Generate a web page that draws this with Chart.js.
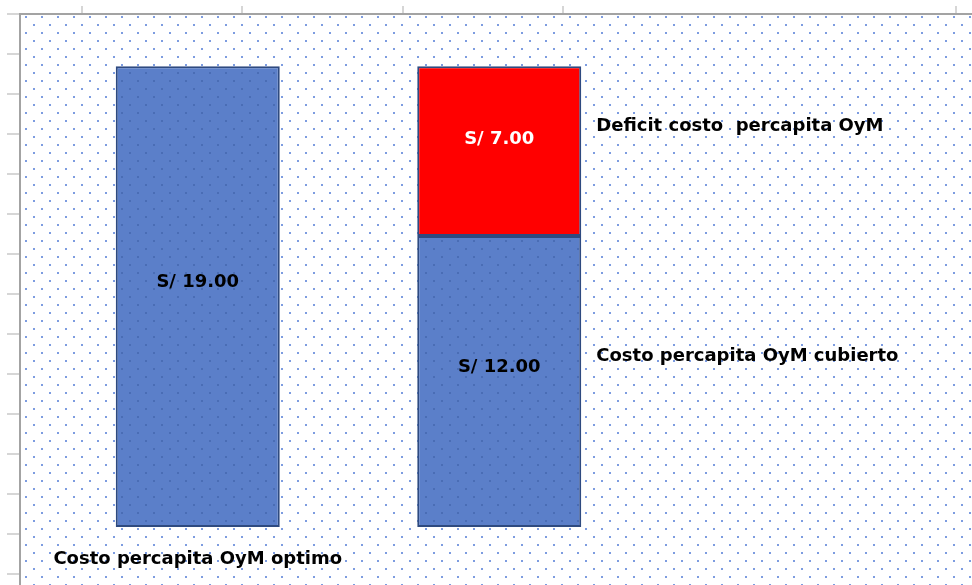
<!DOCTYPE html>
<html>
<head>
<meta charset="utf-8">
<script src="https://cdn.jsdelivr.net/npm/chart.js@4.4.1/dist/chart.umd.min.js"></script>
<style>
  html, body { margin: 0; padding: 0; background: #fff; }
  #wrap { width: 972px; height: 585px; position: relative; }
</style>
</head>
<body>
<div id="wrap"><canvas id="c"></canvas></div>
<script>
// chart data
const categories = ['Costo percapita OyM optimo', ''];
const coveredCost = [19, 12];
const deficitCost = [null, 7];
const seriesNames = ['Costo percapita OyM cubierto', 'Deficit costo  percapita OyM'];
const yMax = 20;

// spreadsheet grid marks behind the chart object
const colMarks = [82, 242, 403, 563, 956];
const rowMarks = [54, 94, 134, 174, 214, 254, 294, 334, 374, 414, 454, 494, 534, 574];

const FONT = 'bold 18px "DejaVu Sans"';
const money = v => 'S/ ' + v.toFixed(2);

// dotted fill (Excel 5% pattern)
function dotTile(bg, dot) {
  const t = document.createElement('canvas');
  t.width = 16; t.height = 16;
  const g = t.getContext('2d');
  if (bg) { g.fillStyle = bg; g.fillRect(0, 0, 16, 16); }
  g.fillStyle = dot;
  g.fillRect(9, 0, 2, 2);
  g.fillRect(1, 8, 2, 2);
  return g.createPattern(t, 'repeat');
}

const ctx0 = document.getElementById('c').getContext('2d');
const bgPattern = dotTile(null, '#7d9ce0');
const bluePattern = dotTile('#5b7fc9', '#4a6db5');

const backdrop = {
  id: 'backdrop',
  beforeDraw(chart) {
    const { ctx, width, height } = chart;
    ctx.save();
    ctx.fillStyle = '#fff';
    ctx.fillRect(0, 0, width, height);
    // grid marks
    ctx.strokeStyle = '#d6d6d6';
    ctx.lineWidth = 2;
    colMarks.forEach(x => { ctx.beginPath(); ctx.moveTo(x, 6); ctx.lineTo(x, 14); ctx.stroke(); });
    rowMarks.forEach(y => { ctx.beginPath(); ctx.moveTo(7, y); ctx.lineTo(20, y); ctx.stroke(); });
    ctx.beginPath(); ctx.moveTo(7, 14); ctx.lineTo(20, 14); ctx.stroke();
    // chart object fill
    ctx.fillStyle = bgPattern;
    ctx.fillRect(21, 15, width - 21, height - 15);
    // frame
    ctx.strokeStyle = '#a3a3a3';
    ctx.beginPath();
    ctx.moveTo(20, height); ctx.lineTo(20, 14); ctx.lineTo(width, 14);
    ctx.stroke();
    ctx.restore();
  }
};

const labelsPlugin = {
  id: 'labels',
  afterDatasetsDraw(chart) {
    const { ctx } = chart;
    const y = chart.scales.y;
    const cov = chart.getDatasetMeta(0).data;
    const def = chart.getDatasetMeta(1).data;
    ctx.save();
    ctx.font = FONT;
    ctx.textBaseline = 'alphabetic';

    // value labels inside segments
    ctx.textAlign = 'center';
    coveredCost.forEach((v, i) => {
      const mid = (y.getPixelForValue(0) + y.getPixelForValue(v)) / 2;
      ctx.fillStyle = '#000';
      ctx.fillText(money(v), cov[i].x, mid - 10);
    });
    deficitCost.forEach((v, i) => {
      if (v == null) return;
      const base = coveredCost[i];
      const mid = (y.getPixelForValue(base) + y.getPixelForValue(base + v)) / 2;
      ctx.fillStyle = '#fff';
      ctx.fillText(money(v), def[i].x, mid - 7);
    });

    // series names beside the stacked bar
    ctx.textAlign = 'left';
    ctx.fillStyle = '#000';
    const i = 1;
    const right = def[i].x + def[i].width / 2;
    const midDef = (y.getPixelForValue(coveredCost[i]) + y.getPixelForValue(coveredCost[i] + deficitCost[i])) / 2;
    const midCov = (y.getPixelForValue(0) + y.getPixelForValue(coveredCost[i])) / 2;
    ctx.fillText(seriesNames[1], right + 15, midDef - 20);
    ctx.fillText(seriesNames[0], right + 15, midCov - 21);

    // category label below first bar
    ctx.textAlign = 'center';
    categories.forEach((c, k) => {
      if (c) ctx.fillText(c, cov[k].x, y.getPixelForValue(0) + 36.5);
    });
    ctx.restore();
  }
};

new Chart(ctx0, {
  type: 'bar',
  data: {
    labels: categories,
    datasets: [
      { label: seriesNames[0], data: coveredCost, backgroundColor: bluePattern, borderColor: '#2e4a80', borderWidth: 2, borderSkipped: false },
      { label: seriesNames[1], data: deficitCost, backgroundColor: '#ff0000', borderColor: '#2e4a80', borderWidth: 2, borderSkipped: false }
    ]
  },
  options: {
    responsive: true,
    maintainAspectRatio: false,
    animation: false,
    devicePixelRatio: 1,
    layout: { padding: { left: 47, right: 322, top: 42, bottom: 58 } },
    datasets: { bar: { barPercentage: 1, categoryPercentage: 0.544 } },
    plugins: { legend: { display: false }, tooltip: { enabled: false } },
    scales: {
      x: { stacked: true, display: false },
      y: { stacked: true, display: false, min: 0, max: yMax }
    }
  },
  plugins: [backdrop, labelsPlugin]
});
</script>
</body>
</html>
